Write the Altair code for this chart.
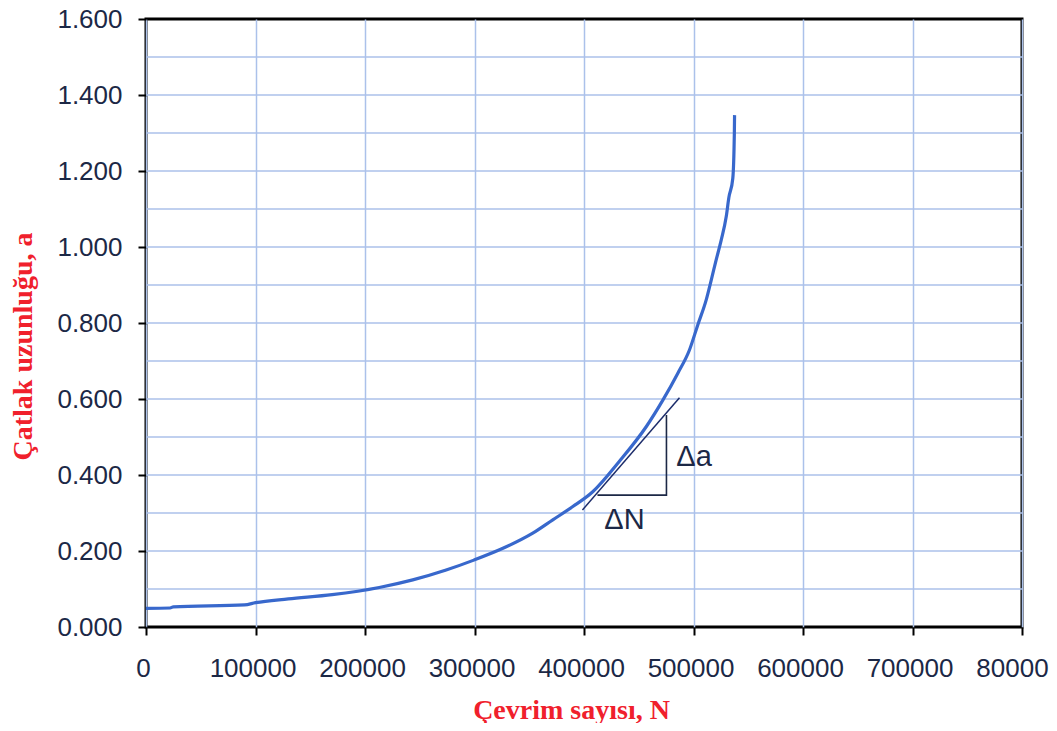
import altair as alt
import pandas as pd

# Curve data (cycles N, crack length a)
cycles = [0, 22000, 25000, 90000, 100000, 130000, 170000, 213000, 243600, 274100,
          299400, 329000, 353200, 371500, 389800, 408000, 432000, 456800, 472000,
          485700, 496300, 503900, 511600, 516200, 520700, 525300, 529900, 532300,
          535900, 537300, 537500]
crack = [0.049, 0.050, 0.053, 0.058, 0.064, 0.074, 0.085, 0.104, 0.124, 0.150,
         0.176, 0.211, 0.247, 0.282, 0.317, 0.356, 0.435, 0.527, 0.597,
         0.668, 0.729, 0.795, 0.861, 0.913, 0.966, 1.018, 1.080, 1.130,
         1.181, 1.299, 1.347]

# Tangent line
tan_x = [398600, 487200]
tan_y = [0.308, 0.603]

# Triangle legs
tri_x = [412300, 475300, 475300]
tri_y = [0.347, 0.347, 0.558]

# Annotations
ann_text = ["Δa", "ΔN"]
ann_x = [500500, 437000]
ann_y = [0.447, 0.282]

# Axis values
x_ticks = [0, 100000, 200000, 300000, 400000, 500000, 600000, 700000, 800000]
y_ticks = [0.0, 0.2, 0.4, 0.6, 0.8, 1.0, 1.2, 1.4, 1.6]
y_grid = [0.1, 0.2, 0.3, 0.4, 0.5, 0.6, 0.7, 0.8, 0.9, 1.0, 1.1, 1.2, 1.3, 1.4, 1.5]

curve_df = pd.DataFrame({"N": cycles, "a": crack, "o": list(range(len(cycles)))})
tan_df = pd.DataFrame({"N": tan_x, "a": tan_y})
tri_df = pd.DataFrame({"N": tri_x, "a": tri_y, "o": [0, 1, 2]})
ann_df = pd.DataFrame({"t": ann_text, "N": ann_x, "a": ann_y})
grid_df = pd.DataFrame({"a": y_grid})

label_color = "#1c2846"
title_color = "#f0202c"
grid_color = "#abc1ea"

xscale = alt.Scale(domain=[0, 800000], nice=False, zero=False)
yscale = alt.Scale(domain=[0, 1.6], nice=False, zero=False)

xaxis = alt.Axis(
    values=x_ticks, grid=True, gridColor=grid_color, gridWidth=1.5,
    domain=False, ticks=True, tickColor="black", tickWidth=2, tickSize=8,
    labelFont="Liberation Sans", labelFontSize=26, labelColor=label_color,
    labelPadding=20, labelFlush=False, labelOverlap=False,
    labelOffset={"condition": {"test": "datum.value === 800000", "value": -10}, "value": -3},
    labelExpr="datum.value == 800000 ? '80000' : format(datum.value, 'd')",
    title="Çevrim sayısı, N", titleFont="Liberation Serif", titleFontWeight="bold",
    titleFontSize=28, titleColor=title_color, titleX=425, titleY=83,
    titleBaseline="middle",
)
yaxis = alt.Axis(
    values=y_ticks, grid=False, format=".3f",
    domain=False, ticks=True, tickColor="black", tickWidth=2, tickSize=8,
    labelFont="Liberation Sans", labelFontSize=26, labelColor=label_color,
    labelPadding=16, labelFlush=False, labelOverlap=False,
    title="Çatlak uzunluğu, a", titleFont="Liberation Serif", titleFontWeight="bold",
    titleFontSize=28, titleColor=title_color, titleX=-123, titleY=327,
    titleBaseline="middle", titleAngle=-90,
)

grid = alt.Chart(grid_df).mark_rule(color=grid_color, strokeWidth=1.5).encode(
    y=alt.Y("a:Q", scale=yscale, axis=yaxis)
)

curve = alt.Chart(curve_df).mark_line(color="#3868cc", strokeWidth=3.2, interpolate="monotone").encode(
    x=alt.X("N:Q", scale=xscale, axis=xaxis),
    y=alt.Y("a:Q", scale=yscale),
    order="o:O",
)

tangent = alt.Chart(tan_df).mark_line(color="#1c2c6a", strokeWidth=1.5).encode(
    x=alt.X("N:Q", scale=xscale),
    y=alt.Y("a:Q", scale=yscale),
)

tri = alt.Chart(tri_df).mark_line(color="#1c2846", strokeWidth=1.6).encode(
    x=alt.X("N:Q", scale=xscale),
    y=alt.Y("a:Q", scale=yscale),
    order="o:O",
)

ann = alt.Chart(ann_df).mark_text(
    font="Liberation Sans", fontSize=29, color="#1c2846", align="center", baseline="middle"
).encode(
    x=alt.X("N:Q", scale=xscale),
    y=alt.Y("a:Q", scale=yscale),
    text="t:N",
)

chart = alt.layer(grid, curve, tangent, tri, ann).properties(
    width=876, height=608,
    autosize=alt.AutoSizeParams(type="none"),
    padding={"left": 138, "top": 11, "right": 27, "bottom": 96},
    background="white",
).configure_view(stroke="black", strokeWidth=3)

chart.save("out.html", embed_options={"renderer": "svg", "actions": False})
